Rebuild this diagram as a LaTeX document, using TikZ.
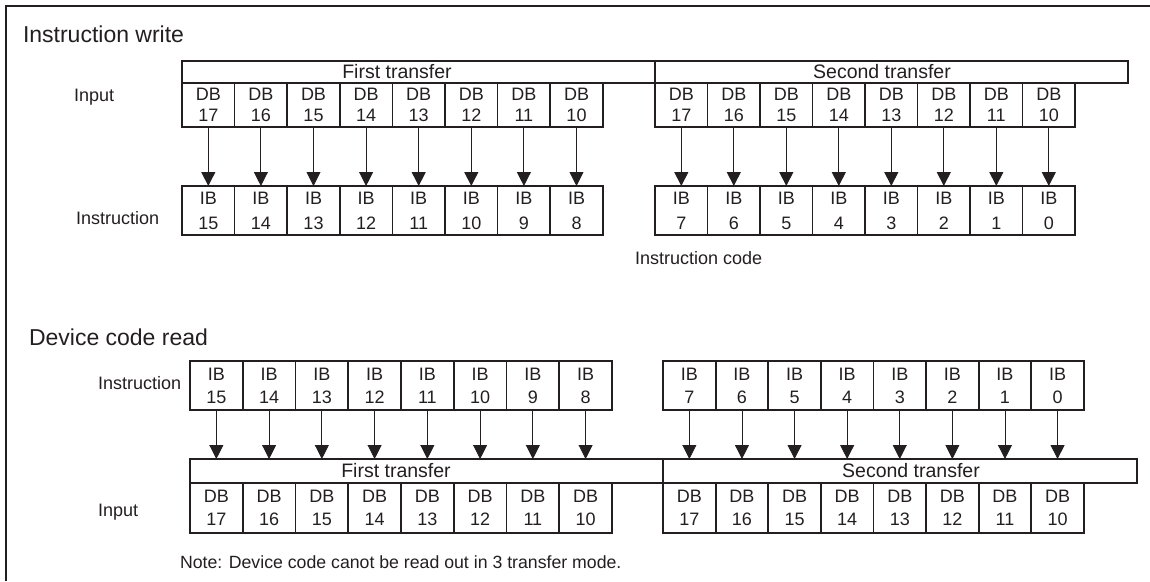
\documentclass[tikz,border=0pt]{standalone}
\usepackage{fontspec}
\setmainfont{Liberation Sans}
\usetikzlibrary{arrows.meta}
\definecolor{ink}{HTML}{231F20}
\begin{document}
\begin{tikzpicture}[x=1pt,y=-1pt,
  every node/.style={text=ink, inner sep=0pt, outer sep=0pt},
  cellbase/.style={draw=ink, line width=1.6pt, anchor=north west, align=center, font=\fontsize{18}{23}\selectfont},
  dbtop/.style={cellbase, minimum width=52.6pt, minimum height=44pt, font=\fontsize{18}{21}\selectfont},
  ibtop/.style={cellbase, minimum width=52.6pt, minimum height=49pt, font=\fontsize{18}{25}\selectfont},
  ibbot/.style={cellbase, minimum width=52.7pt, minimum height=49pt},
  dbbot/.style={cellbase, minimum width=52.7pt, minimum height=50pt},
  hdr/.style={draw=ink, line width=1.6pt, anchor=north west},
  htext/.style={font=\fontsize{19.5}{22}\selectfont},
  lbl/.style={font=\fontsize{18}{21}\selectfont, anchor=west},
  ttl/.style={font=\fontsize{23}{26}\selectfont, anchor=base west},
  arr/.style={draw=ink, line width=0.9pt, -{Triangle[width=14pt,length=14pt]}}
]
\useasboundingbox (0,0) rectangle (1150,581);
% frame
\draw[ink, line width=2.6pt] (6,581) -- (6,6) -- (1150,6);

% ---------- Instruction write ----------
\node[ttl] (t1) at (23,42) {Instruction write};
\node[hdr, minimum width=473pt, minimum height=22pt] (th1) at (182,61) {};
\node[hdr, minimum width=473pt, minimum height=22pt] (th2) at (655,61) {};
\node[htext] (tht1) at (397,72) {First transfer};
\node[htext] (tht2) at (882,72) {Second transfer};
\node[lbl] (tin) at (74,97) {Input};
\node[lbl] (tins) at (76,218) {Instruction};
\node[lbl] (tcode) at (635,258) {Instruction code};
\foreach \i in {1,...,8}{
  \pgfmathtruncatemacro\d{18-\i}
  \pgfmathtruncatemacro\ib{16-\i}
  \pgfmathtruncatemacro\ibb{8-\i}
  \node[dbtop] (td\i) at ({182+(\i-1)*52.6},83) {DB\\\d};
  \node[dbtop] (te\i) at ({655+(\i-1)*52.5},83) {DB\\\d};
  \node[ibtop] (ti\i) at ({182+(\i-1)*52.6},186) {IB\\\ib};
  \node[ibtop] (tj\i) at ({655+(\i-1)*52.5},186) {IB\\\ibb};
  \draw[arr] (td\i) -- (ti\i);
  \draw[arr] (te\i) -- (tj\i);
}

% ---------- Device code read ----------
\node[ttl] (t2) at (29,345) {Device code read};
\node[lbl] (bins) at (98,383) {Instruction};
\node[lbl] (bin) at (98,512) {Input};
\node[hdr, minimum width=473pt, minimum height=24pt] (bh1) at (190,459) {};
\node[hdr, minimum width=474pt, minimum height=24pt] (bh2) at (663,459) {};
\node[htext] (bht1) at (396,471) {First transfer};
\node[htext] (bht2) at (911,471) {Second transfer};
\foreach \i in {1,...,8}{
  \pgfmathtruncatemacro\d{18-\i}
  \pgfmathtruncatemacro\ib{16-\i}
  \pgfmathtruncatemacro\ibb{8-\i}
  \node[ibbot] (bi\i) at ({190+(\i-1)*52.75},361) {IB\\\ib};
  \node[ibbot] (bj\i) at ({663+(\i-1)*52.6},361) {IB\\\ibb};
  \node[dbbot] (bd\i) at ({190+(\i-1)*52.75},483) {DB\\\d};
  \node[dbbot] (be\i) at ({663+(\i-1)*52.6},483) {DB\\\d};
  \draw[arr] (bi\i) -- (bi\i.south |- bh1.north);
  \draw[arr] (bj\i) -- (bj\i.south |- bh2.north);
}
\node[font=\fontsize{17.7}{20}\selectfont, anchor=base west] (note) at (180,568) {Note: Device code canot be read out in 3 transfer mode.};
\end{tikzpicture}
\end{document}
